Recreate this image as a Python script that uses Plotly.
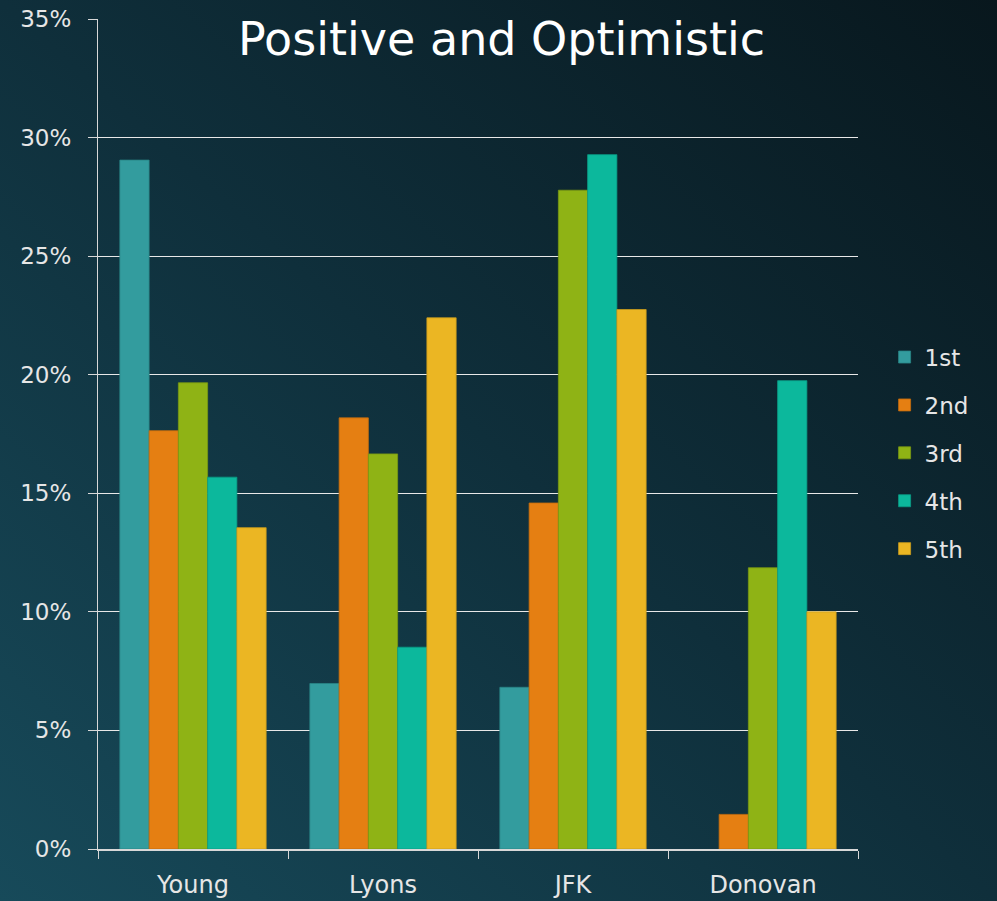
import base64
import plotly.graph_objects as go

categories = ["Young", "Lyons", "JFK", "Donovan"]
series_names = ["1st", "2nd", "3rd", "4th", "5th"]
values_1st = [0.2905, 0.0698, 0.0682, 0.0]
values_2nd = [0.1764, 0.1818, 0.1459, 0.0146]
values_3rd = [0.1966, 0.1666, 0.2778, 0.1186]
values_4th = [0.1568, 0.0851, 0.2928, 0.1975]
values_5th = [0.1355, 0.2240, 0.2275, 0.1000]
series_values = [values_1st, values_2nd, values_3rd, values_4th, values_5th]
colors = ["#339c9e", "#e57f12", "#8fb315", "#0cb89c", "#ebb623"]
outlines = ["#2a8587", "#c46c0e", "#7a9912", "#0a9c85", "#c99c1d"]
title_text = "Positive and Optimistic"

FONT = "DejaVu Sans"
W, H = 997, 901

svg = f'''<svg xmlns="http://www.w3.org/2000/svg" width="{W}" height="{H}" viewBox="0 0 {W} {H}" preserveAspectRatio="none">
<defs><linearGradient id="g" x1="0" y1="1" x2="1" y2="0">
<stop offset="0" stop-color="#174a5a"/>
<stop offset="0.5" stop-color="#0f2f3b"/>
<stop offset="1" stop-color="#08171d"/>
</linearGradient></defs>
<rect width="{W}" height="{H}" fill="url(#g)"/></svg>'''
bg_uri = "data:image/svg+xml;base64," + base64.b64encode(svg.encode()).decode()

fig = go.Figure()
for name, vals, c, oc in zip(series_names, series_values, colors, outlines):
    fig.add_trace(go.Bar(
        x=categories, y=vals, name=name, legendgroup=name,
        marker=dict(color=c, line=dict(color=oc, width=[0.8 if v > 0 else 0 for v in vals])),
    ))

PL, PR, PT, PB = 98, 139, 19, 52
pw, ph = W - PL - PR, H - PT - PB

fig.update_layout(
    width=W, height=H,
    margin=dict(l=PL, r=PR, t=PT, b=PB, autoexpand=False),
    paper_bgcolor="#0f2f3b",
    plot_bgcolor="rgba(0,0,0,0)",
    barmode="group",
    bargap=0.23,
    bargroupgap=0,
    font=dict(family=FONT, color="#e6e6e6", size=22),
    showlegend=True,
    legend=dict(
        x=1.035, xanchor="left", y=0.477, yanchor="middle",
        xref="paper", yref="paper",
        font=dict(family=FONT, size=23, color="#e6e6e6"),
        bgcolor="rgba(0,0,0,0)",
        tracegroupgap=15,
        itemwidth=30,
    ),
    images=[dict(source=bg_uri, xref="paper", yref="paper",
                 x=-PL/pw, y=1 + PT/ph, sizex=W/pw, sizey=H/ph,
                 xanchor="left", yanchor="top", sizing="stretch",
                 layer="below")],
    annotations=[dict(
        text=title_text, xref="paper", yref="paper",
        x=(501-PL)/pw, y=1 - (58-PT)/ph, xanchor="center", yanchor="bottom",
        yshift=-10,
        showarrow=False, font=dict(family=FONT, size=46, color="#ffffff"),
    )],
)

fig.update_yaxes(
    range=[0, 0.35], dtick=0.05, tickformat=".0%",
    showgrid=True, gridcolor="#e8e8e8", gridwidth=1.3,
    showline=True, linecolor="#d8d8d8", linewidth=1.3,
    ticks="outside", ticklen=9, tickcolor="#d8d8d8", tickwidth=1.3,
    ticklabelstandoff=12,
    tickfont=dict(family=FONT, size=23, color="#e6e6e6"),
    zeroline=False, automargin=False,
)
fig.update_xaxes(
    showline=True, linecolor="#d8d8d8", linewidth=1.5,
    ticks="outside", ticklen=8, tickcolor="#d8d8d8", tickwidth=1.3,
    tickson="boundaries",
    ticklabelstandoff=13,
    tickfont=dict(family=FONT, size=24, color="#e6e6e6"),
    showgrid=False, automargin=False,
)

fig.write_html(
    "out.html",
    config={"displayModeBar": False},
    post_script="document.body.style.margin='0';document.body.style.overflow='hidden';"
                "document.body.style.background='#0f2f3b';",
)
